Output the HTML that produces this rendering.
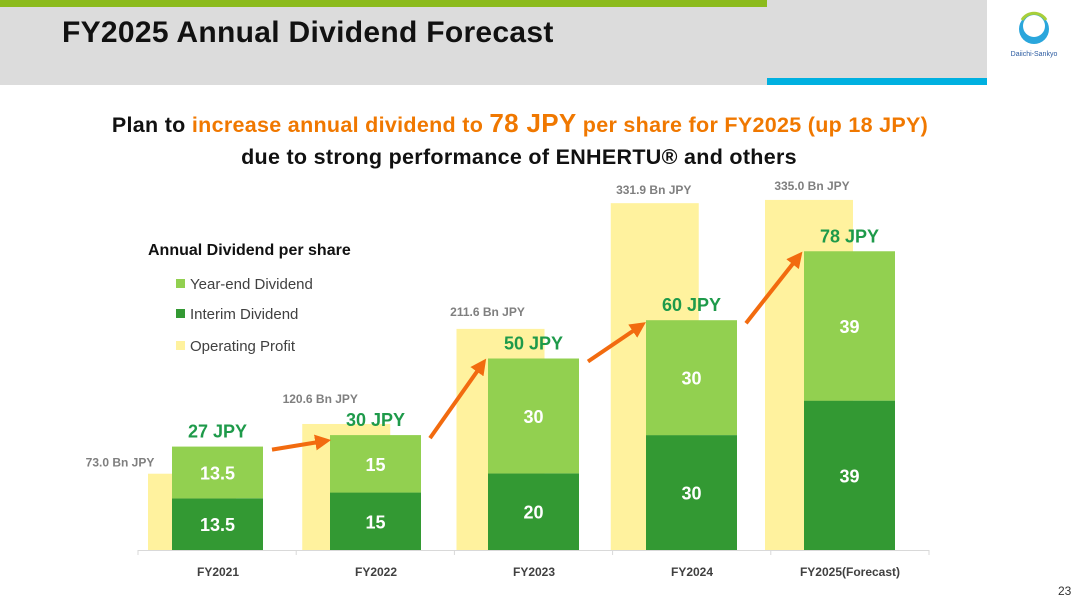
<!DOCTYPE html>
<html><head><meta charset="utf-8"><style>
body{margin:0;width:1080px;height:608px;background:#fff;font-family:"Liberation Sans","DejaVu Sans",sans-serif;overflow:hidden;position:relative}
.abs{position:absolute}
</style></head><body>
<div class="abs" style="left:0;top:0;width:987px;height:85px;background:#dcdcdc"></div>
<div class="abs" style="left:0;top:0;width:767px;height:7px;background:#8cbb1c"></div>
<div class="abs" style="left:767px;top:78px;width:220px;height:7px;background:#00b0e0"></div>
<div class="abs" style="left:62px;top:16px;font-size:30px;font-weight:bold;color:#111;letter-spacing:0.3px">FY2025 Annual Dividend Forecast</div>
<svg class="abs" style="left:1008px;top:8px" width="52" height="52" viewBox="0 0 52 52">
<circle cx="26" cy="21" r="15" fill="#2aa6dc"/><circle cx="26" cy="18" r="11" fill="#fff"/><path d="M14 12 A14 14 0 0 1 38 12" stroke="#a8cf3a" stroke-width="3" fill="none"/>
<text x="26" y="48" font-size="7" text-anchor="middle" fill="#2a5aa0" font-family="Liberation Sans">Daiichi-Sankyo</text></svg>
<div class="abs" style="left:0;width:1040px;top:108px;text-align:center;font-size:21.5px;font-weight:bold;color:#111;letter-spacing:0.3px">Plan to <span style="color:#f07800">increase annual dividend to <span style="font-size:26px">78 JPY</span> per share for FY2025 (up 18 JPY)</span></div>
<div class="abs" style="left:0;width:1038px;top:145px;text-align:center;font-size:21.5px;font-weight:bold;color:#111;letter-spacing:0.3px">due to strong performance of ENHERTU® and others</div>
<div class="abs" style="left:1058px;top:584px;font-size:12px;color:#333">23</div>
<svg id="chart" class="abs" style="left:0;top:0" width="1080" height="608"></svg>
<script>
const categories=["FY2021","FY2022","FY2023","FY2024","FY2025(Forecast)"];
const interim=[13.5,15,20,30,39];
const yearEnd=[13.5,15,30,30,39];
const totals=[27,30,50,60,78];
const profit=[73.0,120.6,211.6,331.9,335.0];
const profitLabels=["73.0 Bn JPY","120.6 Bn JPY","211.6 Bn JPY","331.9 Bn JPY","335.0 Bn JPY"];
const NS="http://www.w3.org/2000/svg";
const svg=document.getElementById('chart');
const base=550;
const yDiv=v=>base-v*3.83;
const yProf=v=>base-v*1.045;
const xGreen=i=>172+i*158;
const xYellow=i=>148+i*154.25;
const labelDx=[-28,18,31,43,47];
const labelDy=[-7,-21,-13,-9,-10];
function el(tag,attrs,parent){const e=document.createElementNS(NS,tag);for(const k in attrs)e.setAttribute(k,attrs[k]);(parent||svg).appendChild(e);return e;}
function txt(x,y,s,size,fill,anchor){const t=el('text',{x:x,y:y,'font-size':size,'font-weight':'bold',fill:fill,'text-anchor':anchor||'middle','font-family':'Liberation Sans, sans-serif'});t.textContent=s;return t;}
const ax=el('line',{x1:138,y1:base+0.5,x2:929,y2:base+0.5,stroke:'#d9d9d9','stroke-width':1});


for(let i=0;i<=5;i++){const tk=el('line',{x1:138+i*158.2,y1:base,x2:138+i*158.2,y2:base+5,stroke:'#d9d9d9'});

}
categories.forEach((c,i)=>{
 const yt=yProf(profit[i]);
 const yb=el('rect',{x:xYellow(i),y:yt,width:88,height:base-yt,fill:'#fff29e'});
 
 
});
categories.forEach((c,i)=>{
 const x=xGreen(i),cx=x+45.5;
 const yi=yDiv(interim[i]);
 const r1=el('rect',{x:x,y:yi,width:91,height:base-yi,fill:'#339933'});
 
 
 const ye=yDiv(interim[i]+yearEnd[i]);
 const r2=el('rect',{x:x,y:ye,width:91,height:yi-ye,fill:'#92d050'});
 
 
 const t1=txt(cx,(yi+base)/2+7,String(interim[i]),18,'#fff');
 
 
 const t2=txt(cx,(ye+yi)/2+7,String(yearEnd[i]),18,'#fff');
 
 
 const cl=txt(218+i*158,576,c,12,'#404040');
 
 
});
categories.forEach((c,i)=>{
 const yt=yProf(profit[i]);
 const pl=txt(xYellow(i)+labelDx[i],yt+labelDy[i],profitLabels[i],12,'#7f7f7f','middle');
 
 
 const cx=xGreen(i)+45.5;
 const tt=txt(cx,yDiv(totals[i])-9,totals[i]+' JPY',18,'#1e9a4a');
 
 
});
const defs=el('defs',{});
const mk=el('marker',{id:'ah',markerWidth:4,markerHeight:4,refX:2.2,refY:2,orient:'auto',markerUnits:'strokeWidth'},defs);
el('path',{d:'M0,0 L4,2 L0,4 Z',fill:'#f26b0f'},mk);
for(let i=0;i<4;i++){
 const x1=xGreen(i)+100,y1=yDiv(totals[i])+3;
 const x2=xGreen(i+1)-6,y2=yDiv(totals[i+1])+6;
 const a=el('line',{x1:x1,y1:y1,x2:x2,y2:y2,stroke:'#f26b0f','stroke-width':4,'marker-end':'url(#ah)'});
 
 
}
const lt=txt(148,255,'Annual Dividend per share',16,'#111','start');


const legItems=[['Year-end Dividend','#92d050',284],['Interim Dividend','#339933',314],['Operating Profit','#fff29e',346]];
legItems.forEach(l=>{
 const g=el('g',{});
 
 
 el('rect',{x:176,y:l[2]-5,width:9,height:9,fill:l[1]},g);
 const t=el('text',{x:190,y:l[2]+5,'font-size':15,fill:'#404040','font-family':'Liberation Sans, sans-serif'},g);
 t.textContent=l[0];
});
</script>
</body></html>
